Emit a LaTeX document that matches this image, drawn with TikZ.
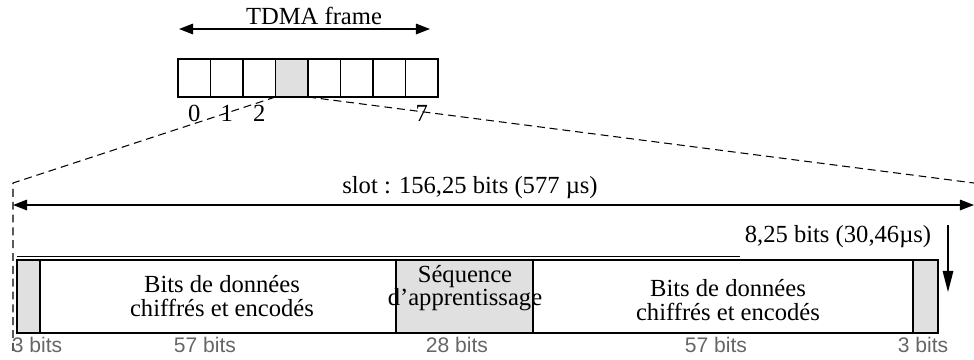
\documentclass[tikz,border=0pt]{standalone}
\usepackage{fontspec}
\setmainfont{Liberation Serif}
\newfontfamily\bitsfont{Liberation Sans}
\usetikzlibrary{positioning, arrows.meta}

\begin{document}
\begin{tikzpicture}[x=0.02cm, y=-0.02cm,
		slotbox/.style={rectangle, draw, line width=0.9pt, minimum width=0.65cm, minimum height=0.76cm, inner sep=0pt, outer sep=0pt},
		segment/.style={rectangle, draw, line width=1.1pt, minimum height=1.46cm, inner sep=0pt, outer sep=0pt},
		shaded/.style={fill=black!12},
		title/.style={font=\fontsize{14}{16}\selectfont},
		blocktext/.style={align=center, font=\fontsize{14}{13.3}\selectfont},
		bitslabel/.style={font=\bitsfont\fontsize{12}{12}\selectfont, text=black!60},
		span/.style={{Triangle[length=8pt,width=6pt]}-{Triangle[length=8pt,width=6pt]}, line width=0.8pt},
		zoomline/.style={line width=0.6pt, dash pattern=on 4.5pt off 2.8pt}
		]
		\useasboundingbox (0,0) rectangle (974,359);
		% TDMA frame with its 8 time slots
		\foreach \i/\c in {0/white, 1/white, 2/white, 3/black!12, 4/white, 5/white, 6/white, 7/white} {
			\node[slotbox, fill=\c] (s\i) at ({194.25+32.5*\i}, 78) {};
		}
		\foreach \i in {0,1,2,7} {
			\node[title, below=1pt of s\i] (n\i) {\i};
		}
		\coordinate (fl) at (179,29);
		\coordinate (fr) at (430,29);
		\draw[span] (fl) -- (fr);
		\node[title] (ftitle) at (314,16) {TDMA frame};
		% Zoom lines from slot 3
		\coordinate (zl) at (13,183);
		\coordinate (zb) at (13,352);
		\coordinate (zr) at (974,183);
		\draw[zoomline] (s3.south west) -- (zl) -- (zb);
		\draw[zoomline] (s3.south east) -- (zr);
		% Slot length
		\coordinate (sl) at (13,205);
		\coordinate (sr) at (974,205);
		\draw[span] (sl) -- (sr);
		\node[title] (stitle) at (470,188) {slot : 156,25 bits (577 µs)};
		% Guard time
		\node[title] (gtitle) at (838,237) {8,25 bits (30,46µs)};
		\coordinate (ga) at (948,225);
		\coordinate (gb) at (948,292);
		\draw[-{Triangle[length=12pt,width=6pt]}, line width=0.8pt] (ga) -- (gb);
		% Burst structure
		\node[segment, shaded, minimum width=0.46cm, anchor=north west] (b1) at (17,260) {};
		\node[segment, minimum width=7.12cm, right=0pt of b1] (b2) {};
		\node[segment, shaded, minimum width=2.74cm, right=0pt of b2] (b3) {};
		\node[segment, minimum width=7.6cm, right=0pt of b3] (b4) {};
		\node[segment, shaded, minimum width=0.5cm, right=0pt of b4] (b5) {};
		\coordinate (dl) at (740,256);
		\draw[line width=0.5pt] (b1.north west |- dl) -- (dl);
		\node[blocktext] (t2) at (222,296) {Bits de données\\chiffrés et encodés};
		\node[blocktext] (t3) at (465,288) {Séquence\\d'apprentissage};
		\node[blocktext] (t4) at (728,300) {Bits de données\\chiffrés et encodés};
		% Bit counts
		\foreach \n/\x/\t in {l1/37/3, l2/205/57, l3/457/28, l4/716/57, l5/923/3} {
			\node[bitslabel] (\n) at (\x,345) {\t\ bits};
		}
	\end{tikzpicture}
\end{document}
